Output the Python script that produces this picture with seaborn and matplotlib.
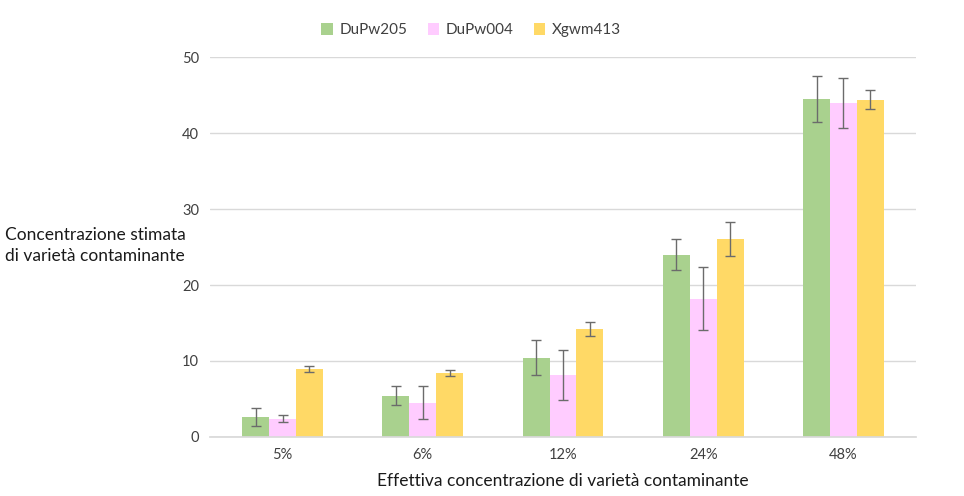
import numpy as np
import pandas as pd
import matplotlib
matplotlib.use("Agg")
import matplotlib.pyplot as plt
import seaborn as sns

categories = ["5%", "6%", "12%", "24%", "48%"]
markers = ["DuPw205", "DuPw004", "Xgwm413"]
dupw205 = [2.65, 5.45, 10.45, 24.0, 44.5]
dupw004 = [2.4, 4.5, 8.15, 18.2, 44.0]
xgwm413 = [8.95, 8.4, 14.2, 26.05, 44.4]
err205 = [1.15, 1.2, 2.35, 2.0, 3.0]
err004 = [0.45, 2.2, 3.3, 4.15, 3.3]
err413 = [0.45, 0.37, 0.95, 2.2, 1.3]
colors = ["#A9D18E", "#FFCCFF", "#FFD966"]

values = [dupw205, dupw004, xgwm413]
errors = [err205, err004, err413]
df = pd.DataFrame({
    "cat": categories * 3,
    "marker": np.repeat(markers, len(categories)),
    "val": np.concatenate(values),
})

sns.set_theme(style="white")
plt.rcParams["font.family"] = ["Lato", "DejaVu Sans"]

fig = plt.figure(figsize=(9.64, 4.96), dpi=100)
ax = fig.add_axes([0.218, 0.119, 0.732, 0.766])

sns.barplot(data=df, x="cat", y="val", hue="marker", palette=colors,
            width=0.575, saturation=1, ax=ax, errorbar=None, linewidth=0)

# error bars at each bar centre
for cont, err in zip(ax.containers, errors):
    xs = [p.get_x() + p.get_width() / 2 for p in cont.patches]
    hs = [p.get_height() for p in cont.patches]
    ax.errorbar(xs, hs, yerr=err, fmt="none", ecolor="#6b6b6b",
                elinewidth=1, capsize=3.5, capthick=1)

ax.set_ylim(0, 50)
ax.set_yticks(range(0, 51, 10))
ax.yaxis.grid(True, color="#D9D9D9", linewidth=1)
ax.set_axisbelow(True)
for s in ["top", "right", "left"]:
    ax.spines[s].set_visible(False)
ax.spines["bottom"].set_color("#D9D9D9")
ax.tick_params(axis="both", length=0, labelsize=10.5, colors="#404040", pad=8)
ax.set_xlabel("Effettiva concentrazione di varietà contaminante",
              fontsize=12.5, color="#1a1a1a", labelpad=8)
ax.set_ylabel("")
fig.text(0.005, 0.505, "Concentrazione stimata\ndi varietà contaminante",
         fontsize=12.5, color="#1a1a1a", ha="left", va="center", linespacing=1.45)

ax.legend(loc="upper center", bbox_to_anchor=(0.37, 1.125), ncol=3, frameon=False,
          fontsize=11, handlelength=0.75, handleheight=0.75, columnspacing=1.3,
          handletextpad=0.45, labelcolor="#404040")

fig.savefig("out.png", dpi=100)
